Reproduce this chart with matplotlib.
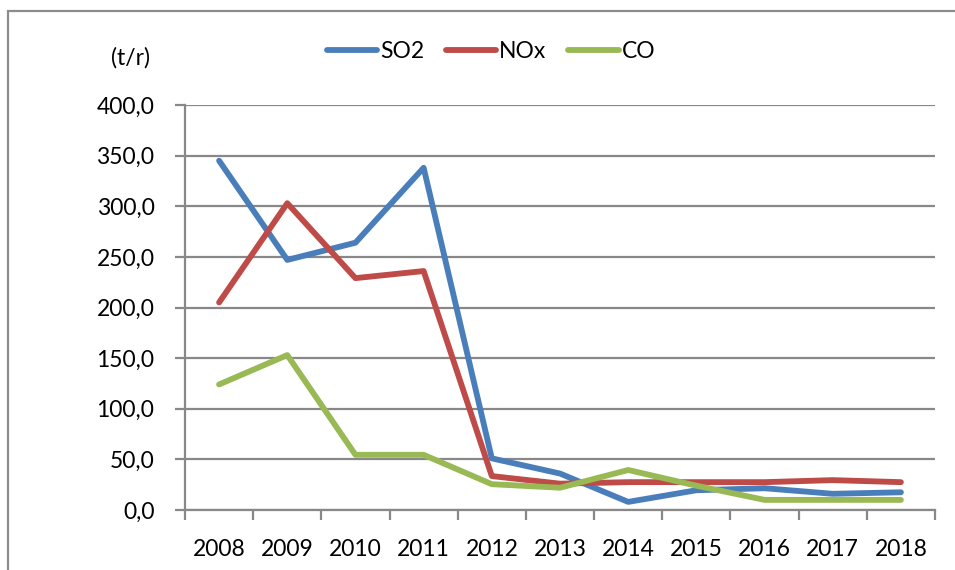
import matplotlib
matplotlib.use("Agg")
import matplotlib.pyplot as plt
from matplotlib.patches import Rectangle
import numpy as np

plt.rcParams['font.family'] = ['Lato', 'DejaVu Sans']

years = ['2008', '2009', '2010', '2011', '2012', '2013', '2014', '2015', '2016', '2017', '2018']
so2 = [345, 247, 264, 338, 51, 36, 8, 19.5, 21.5, 16, 17.5]
nox = [205, 303, 229, 236, 33.5, 26, 27.5, 27.5, 27.5, 29.5, 27.5]
co = [124, 153, 54.5, 54.5, 25.5, 22, 39.5, 24, 10, 10, 10]
yticks = [0, 50, 100, 150, 200, 250, 300, 350, 400]
ytick_labels = ['0,0', '50,0', '100,0', '150,0', '200,0', '250,0', '300,0', '350,0', '400,0']
series_names = ['SO2', 'NOx', 'CO']
colors = ['#4A7EBB', '#BE4B48', '#98B954']

W, H = 955, 570
fig = plt.figure(figsize=(W / 100, H / 100), dpi=100)
ax = fig.add_axes([185 / W, 1 - 510 / H, (935 - 185) / W, (510 - 105) / H])

x = np.arange(len(years))
for vals, name, c in zip([so2, nox, co], series_names, colors):
    ax.plot(x, vals, color=c, lw=4.2, label=name, solid_capstyle='round', solid_joinstyle='round', zorder=3)

grid_c = '#888888'
fs = 16.5
ax.set_ylim(0, 400)
ax.set_xlim(-0.5, len(years) - 0.5)
ax.set_yticks(yticks)
ax.set_yticklabels(ytick_labels)
ax.yaxis.grid(True, color=grid_c, lw=1.6, zorder=1)
ax.set_axisbelow(True)

ax.set_xticks(np.arange(-0.5, len(years), 1.0))
ax.set_xticklabels([])
ax.set_xticks(x, minor=True)
ax.set_xticklabels(years, minor=True)
ax.tick_params(axis='x', which='major', length=7, width=1.6, color=grid_c, direction='out')
ax.tick_params(axis='x', which='minor', length=0, pad=21, labelsize=fs)
ax.tick_params(axis='y', length=7, width=1.6, color=grid_c, direction='out', pad=15, labelsize=fs)

for s in ['top', 'right']:
    ax.spines[s].set_visible(False)
for s in ['left', 'bottom']:
    ax.spines[s].set_color(grid_c)
    ax.spines[s].set_linewidth(1.6)

fig.text(130 / W, 1 - 58 / H, '(t/r)', ha='center', va='center', fontsize=fs)

fig.legend(loc='center', bbox_to_anchor=(491 / W, 1 - 52 / H), ncol=3, frameon=False,
           fontsize=fs, handlelength=2.2, handletextpad=0.12, columnspacing=0.95)

fig.patches.append(Rectangle((8 / W, -0.2), 2, 1.2 - 11 / H, transform=fig.transFigure,
                             fill=False, edgecolor='#8c8c8c', lw=1.6))

fig.savefig('out.png', dpi=100)
